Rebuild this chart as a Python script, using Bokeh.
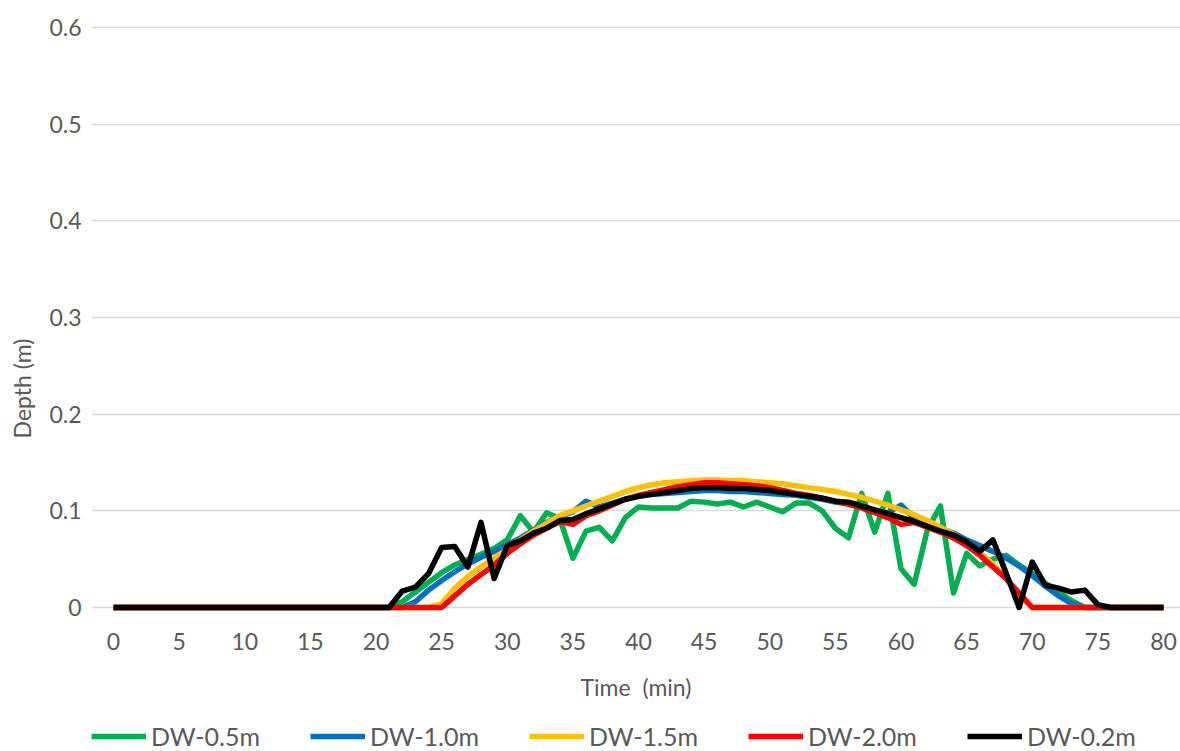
from bokeh.plotting import figure
from bokeh.models import FixedTicker, Legend, LegendItem
from bokeh.embed import file_html
from bokeh.resources import INLINE

# Time axis (minutes)
time_min = list(range(0, 81))

# Water depth (m) at each minute for each downstream-width case
dw_05 = [0, 0, 0, 0, 0, 0, 0, 0, 0, 0, 0, 0, 0, 0, 0, 0, 0, 0, 0, 0, 0, 0,
         0.006, 0.016, 0.026, 0.036, 0.044, 0.050, 0.055, 0.061, 0.070,
         0.095, 0.078, 0.098, 0.092, 0.051, 0.079, 0.083, 0.069, 0.093, 0.104,
         0.103, 0.103, 0.103, 0.110, 0.109, 0.107, 0.109, 0.104, 0.109, 0.104,
         0.099, 0.108, 0.108, 0.100, 0.082, 0.072, 0.118, 0.078, 0.118, 0.040,
         0.024, 0.080, 0.105, 0.015, 0.056, 0.043, 0.050, 0.054, 0.044, 0.035,
         0.025, 0.016, 0.007, 0, 0, 0, 0, 0, 0, 0]
dw_10 = [0, 0, 0, 0, 0, 0, 0, 0, 0, 0, 0, 0, 0, 0, 0, 0, 0, 0, 0, 0, 0, 0, 0,
         0.006, 0.018, 0.028, 0.037, 0.045, 0.052, 0.058, 0.065,
         0.072, 0.080, 0.088, 0.094, 0.099, 0.110, 0.104, 0.108, 0.112, 0.115,
         0.117, 0.118, 0.119, 0.120, 0.121, 0.121, 0.120, 0.120, 0.119, 0.118,
         0.117, 0.116, 0.114, 0.112, 0.109, 0.107, 0.104, 0.100, 0.098, 0.106,
         0.092, 0.087, 0.082, 0.077, 0.070, 0.064, 0.058, 0.051, 0.043, 0.033,
         0.022, 0.012, 0.004, 0, 0, 0, 0, 0, 0, 0]
dw_15 = [0, 0, 0, 0, 0, 0, 0, 0, 0, 0, 0, 0, 0, 0, 0, 0, 0, 0, 0, 0, 0, 0, 0, 0, 0,
         0.004, 0.020, 0.032, 0.042, 0.051, 0.060,
         0.070, 0.079, 0.087, 0.095, 0.100, 0.105, 0.110, 0.115, 0.120, 0.124,
         0.127, 0.129, 0.130, 0.131, 0.132, 0.132, 0.131, 0.131, 0.130, 0.129,
         0.128, 0.126, 0.124, 0.122, 0.120, 0.117, 0.114, 0.110, 0.106, 0.101,
         0.096, 0.090, 0.083, 0.076, 0.067, 0.057, 0.045, 0.030, 0.012, 0,
         0, 0, 0, 0, 0, 0, 0, 0, 0, 0]
dw_20 = [0, 0, 0, 0, 0, 0, 0, 0, 0, 0, 0, 0, 0, 0, 0, 0, 0, 0, 0, 0, 0, 0, 0, 0, 0, 0,
         0.012, 0.024, 0.034, 0.044, 0.056,
         0.066, 0.075, 0.082, 0.089, 0.086, 0.095, 0.100, 0.106, 0.112, 0.116,
         0.119, 0.122, 0.125, 0.127, 0.129, 0.129, 0.128, 0.127, 0.126, 0.124,
         0.121, 0.118, 0.116, 0.113, 0.110, 0.107, 0.103, 0.098, 0.093, 0.086,
         0.088, 0.083, 0.078, 0.072, 0.064, 0.054, 0.042, 0.030, 0.015, 0,
         0, 0, 0, 0, 0, 0, 0, 0, 0, 0]
dw_02 = [0, 0, 0, 0, 0, 0, 0, 0, 0, 0, 0, 0, 0, 0, 0, 0, 0, 0, 0, 0, 0, 0,
         0.017, 0.021, 0.035, 0.062, 0.063, 0.042, 0.088, 0.030, 0.064,
         0.069, 0.077, 0.082, 0.090, 0.091, 0.097, 0.102, 0.107, 0.112, 0.115,
         0.117, 0.119, 0.121, 0.123, 0.124, 0.124, 0.123, 0.123, 0.122, 0.121,
         0.119, 0.117, 0.115, 0.113, 0.110, 0.109, 0.105, 0.101, 0.097, 0.093,
         0.089, 0.084, 0.079, 0.075, 0.068, 0.058, 0.070, 0.036, 0.000, 0.047,
         0.023, 0.020, 0.016, 0.018, 0.003, 0, 0, 0, 0, 0]

series_names = ["DW-0.5m", "DW-1.0m", "DW-1.5m", "DW-2.0m", "DW-0.2m"]
series_values = [dw_05, dw_10, dw_15, dw_20, dw_02]
series_colors = ["#00B050", "#0070C0", "#FFC000", "#FF0000", "#000000"]

x_ticks = list(range(0, 81, 5))
y_ticks = [0, 0.1, 0.2, 0.3, 0.4, 0.5, 0.6]
y_tick_labels = ["0", "0.1", "0.2", "0.3", "0.4", "0.5", "0.6"]

FONT = "Lato"
TEXT = "#595959"

# The frame reaches the bottom and right edges so the legend and the last
# tick label fit; the x axis is pinned to depth 0.
p = figure(frame_width=1089, frame_height=726, output_backend="svg",
           toolbar_location=None,
           x_range=(-1.676, 81.295), y_range=(-0.14897, 0.60207),
           min_border_left=91, min_border_right=0, min_border_top=25,
           min_border_bottom=0)
p.outline_line_color = None
p.background_fill_color = "white"
p.border_fill_color = "white"

p.xgrid.grid_line_color = None
p.ygrid.grid_line_color = "#D9D9D9"
p.ygrid.grid_line_width = 1.3
p.ygrid.ticker = FixedTicker(ticks=y_ticks)
p.ygrid.bounds = (-0.457, 80.38)

renderers = []
for name, vals, col in zip(series_names, series_values, series_colors):
    r = p.line(time_min, vals, line_color=col, line_width=5.5, line_join="round")
    renderers.append((name, r))

# axes
p.xaxis.fixed_location = 0
p.xaxis.ticker = FixedTicker(ticks=x_ticks)
p.yaxis.ticker = FixedTicker(ticks=y_ticks)
p.yaxis.bounds = (0, 0.6)
p.yaxis.major_label_overrides = {t: s for t, s in zip(y_ticks, y_tick_labels)}
for ax in (p.xaxis[0], p.yaxis[0]):
    ax.axis_line_color = None
    ax.major_tick_line_color = None
    ax.minor_tick_line_color = None
    ax.major_tick_out = 0
    ax.major_tick_in = 0
    ax.major_label_text_font = FONT
    ax.major_label_text_font_size = "23px"
    ax.major_label_text_color = TEXT
    ax.axis_label_text_font = FONT
    ax.axis_label_text_font_size = "23px"
    ax.axis_label_text_color = TEXT
    ax.axis_label_text_font_style = "normal"

p.xaxis.axis_label = "Time\u00a0 (min)"
p.yaxis.axis_label = "Depth (m)"
p.xaxis.major_label_standoff = 26
p.xaxis.axis_label_standoff = 19
p.yaxis.major_label_standoff = 10
p.yaxis.axis_label_standoff = 10

# horizontal legend under the axis title
legend = Legend(items=[LegendItem(label=n, renderers=[r]) for n, r in renderers],
                orientation="horizontal", location=(0, 0),
                glyph_width=55, glyph_height=26, label_standoff=5, spacing=50,
                padding=0, margin=0, border_line_color=None,
                background_fill_alpha=0,
                label_text_font=FONT, label_text_font_size="25px",
                label_text_color=TEXT)
p.add_layout(legend, "center")

open("out.html", "w").write(file_html(p, INLINE))
